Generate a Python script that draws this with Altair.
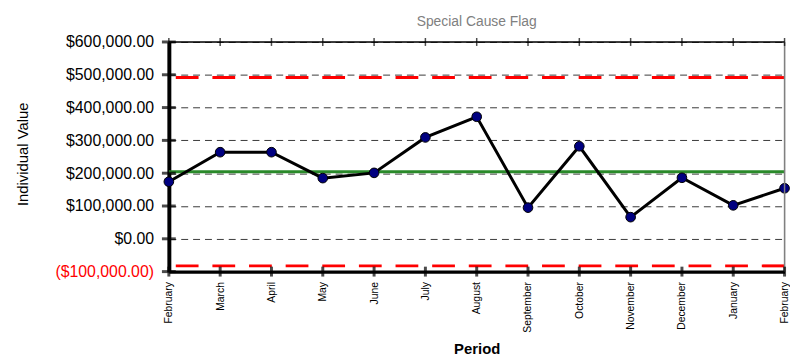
import altair as alt
import pandas as pd

# ---- data ----
periods = ["February", "March", "April", "May", "June", "July", "August",
           "September", "October", "November", "December", "January", "February"]
values = [174000, 264000, 264000, 185000, 201000, 309000, 372000,
          95000, 282000, 66000, 186000, 102000, 154000]
center_line = 204500
ucl = 491500
lcl = -82500
y_ticks = [-100000, 0, 100000, 200000, 300000, 400000, 500000, 600000]
Y_MIN, Y_MAX = -100000, 600000

idx = list(range(len(periods)))
df = pd.DataFrame({"idx": idx, "value": values, "period": periods})
df_limits = pd.DataFrame({"v": [ucl, lcl]})
df_cl = pd.DataFrame({"v": [center_line]})
df_yt = pd.DataFrame({"v": y_ticks})
df_xt = pd.DataFrame({"idx": idx})

FONT = "Liberation Sans"
W, H = 622, 232

month_arr = "[" + ",".join("'" + p + "'" for p in periods) + "]"

xscale = alt.Scale(domain=[0, len(periods) - 1], nice=False, zero=False)
yscale = alt.Scale(domain=[Y_MIN, Y_MAX], nice=False, zero=False)

x_axis = alt.Axis(
    values=idx, labelExpr=month_arr + "[datum.value]", labelAngle=-90,
    labelFontSize=10.5, labelFont=FONT, labelColor="black", labelPadding=10,
    ticks=False, grid=False, domainColor="black", domainWidth=3.5,
    title="Period", titleFont=FONT, titleFontSize=15, titleFontWeight="bold",
    titleColor="black", titleX=W / 2, titleY=82.5, titleBaseline="alphabetic",
    titleAlign="center", labelOverlap=False, labelBound=False, labelFlush=False,
)
y_axis = alt.Axis(
    values=y_ticks,
    labelExpr="datum.value < 0 ? '(' + format(-datum.value, '$,.2f') + ')' : format(datum.value, '$,.2f') + '\u00a0'",
    labelColor={"condition": {"test": "datum.value < 0", "value": "#ff0000"}, "value": "black"},
    labelFontSize=16, labelFont=FONT, labelPadding=15.5, ticks=False,
    grid=True, gridDash=[7, 5], gridColor="#3a3a3a", gridWidth=1,
    domainColor="black", domainWidth=4,
    title="Individual Value", titleFont=FONT, titleFontSize=15, titleFontWeight="normal",
    titleColor="black", titleX=-148, titleY=113, titleAngle=-90,
    titleAlign="center", titleBaseline="middle", labelOverlap=False, labelFlush=False,
)


def X(field):
    return alt.X(field, scale=xscale, axis=x_axis)


def Y(field):
    return alt.Y(field, scale=yscale, axis=y_axis)


base = alt.Chart(df)

line = base.mark_line(color="black", strokeWidth=3).encode(x=X("idx:Q"), y=Y("value:Q"))
points = base.mark_circle(size=95, color="#000080", opacity=1, stroke="black", strokeWidth=1).encode(
    x=X("idx:Q"), y=Y("value:Q")
)

limits = alt.Chart(df_limits).mark_rule(color="#ff0000", strokeWidth=3, strokeDash=[23, 14]).encode(
    y=Y("v:Q")
)
cl = alt.Chart(df_cl).mark_rule(color="#2a8a2a", strokeWidth=3).encode(y=Y("v:Q"))

top_border = alt.Chart(df_cl).mark_rule(color="black", strokeWidth=1.5).encode(
    x=alt.datum(0, scale=xscale, axis=x_axis), x2=alt.datum(len(periods) - 1),
    y=alt.datum(Y_MAX, scale=yscale, axis=y_axis),
)
right_border = alt.Chart(df_cl).mark_rule(color="#808080", strokeWidth=1.5).encode(
    x=alt.datum(len(periods) - 1, scale=xscale, axis=x_axis),
    y=alt.datum(Y_MIN, scale=yscale, axis=y_axis), y2=alt.datum(Y_MAX),
)

left_ticks = alt.Chart(df_yt).mark_tick(orient="horizontal", size=14, thickness=3, color="black").encode(
    y=Y("v:Q"), x=alt.datum(0, scale=xscale, axis=x_axis)
)
bottom_ticks = alt.Chart(df_xt).mark_tick(orient="vertical", size=10, thickness=3, color="black").encode(
    x=X("idx:Q"), y=alt.datum(Y_MIN, scale=yscale, axis=y_axis)
)
top_ticks = alt.Chart(df_xt).mark_tick(orient="vertical", size=8, thickness=1.5, color="black").encode(
    x=X("idx:Q"), y=alt.datum(Y_MAX, scale=yscale, axis=y_axis)
)

chart = alt.layer(
    limits, cl, line, points, top_border, right_border, left_ticks, bottom_ticks, top_ticks
).properties(
    width=W, height=H,
    title=alt.TitleParams("Special Cause Flag", font=FONT, fontSize=14, color="#808080",
                          fontWeight="normal", anchor="middle", frame="group", offset=8, dy=3),
    autosize=alt.AutoSizeParams(type="none"),
    padding={"left": 162.5, "top": 32.5, "right": 5.5, "bottom": 89.5},
).configure_view(stroke=None).configure(background="white")

chart.save("out.html", embed_options={"renderer": "svg", "actions": False})
